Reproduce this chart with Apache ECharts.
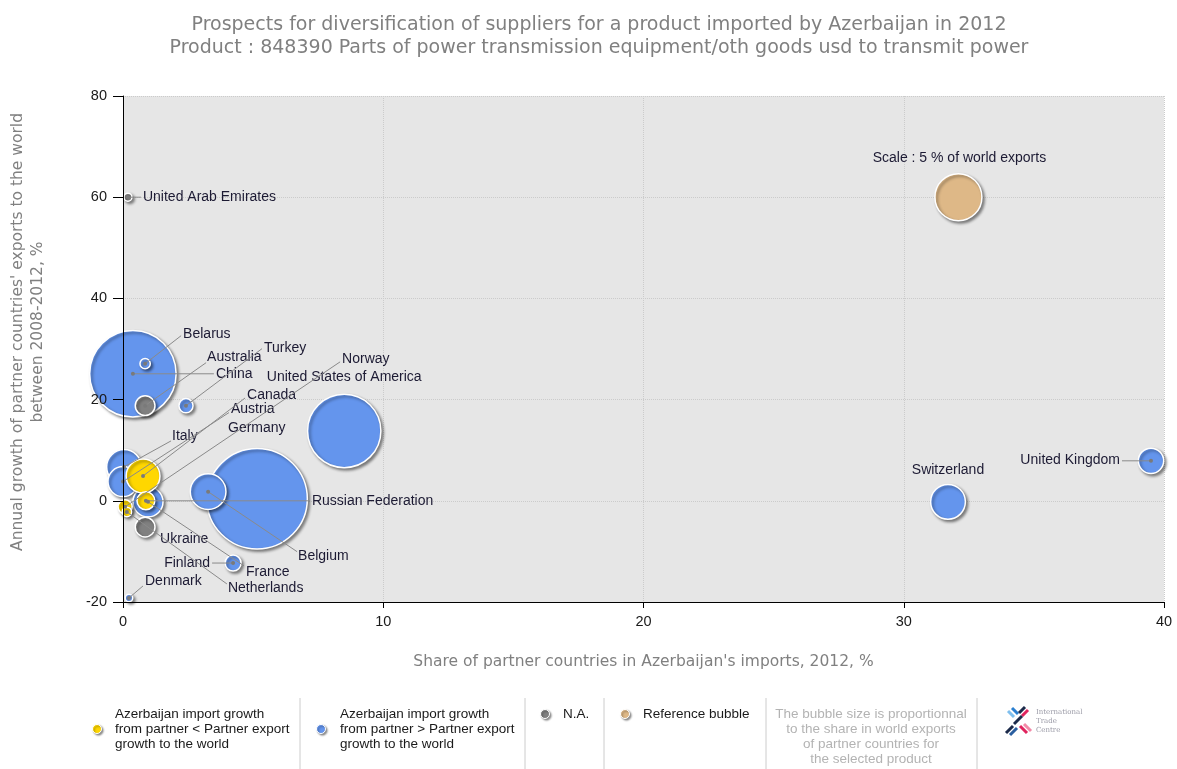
<!DOCTYPE html>
<html>
<head>
<meta charset="utf-8">
<title>Azerbaijan 848390 suppliers</title>
<script src="https://cdn.jsdelivr.net/npm/echarts@6/dist/echarts.min.js"></script>
<style>
  html, body { margin: 0; padding: 0; background: #fff; }
  #chart { width: 1177px; height: 769px; }
</style>
</head>
<body>
<div id="chart"></div>
<script>
// partner countries
const countries = [
  "United Arab Emirates", "China", "Belarus", "Australia", "Turkey",
  "United States of America", "Norway", "Canada", "Austria", "Germany",
  "Italy", "Russian Federation", "Ukraine", "Belgium", "Finland",
  "France", "Netherlands", "Denmark", "Switzerland", "United Kingdom"
]
// share in Azerbaijan's imports, 2012, %
const importShare = [0.19, 0.38, 0.85, 0.85, 2.42, 8.5, 0.08, 0.77, 0.0, 5.15, 0.04, 0.88, 0.85, 3.27, 4.23, 0.96, 0.15, 0.23, 31.7, 39.5]
// annual growth of partner exports to the world, 2008-2012, %
const exportGrowth = [60.0, 25.1, 27.1, 18.8, 18.8, 13.8, -1.2, 4.9, 3.8, 0.4, 6.7, 0.0, -5.2, 1.8, -12.3, -0.2, -2.2, -19.2, -0.2, 7.9]
// share in world exports, % (bubble size)
const worldShare = [0.85, 9.2, 1.1, 2.1, 1.5, 7.8, 1.5, 3.6, 3.2, 10.7, 3.7, 1.9, 2.1, 3.8, 1.7, 3.2, 1.0, 0.8, 3.7, 2.7]
// lower: import growth < partner export growth, higher: >, na: N.A.
const growthGroup = [
  "na", "higher", "higher", "na", "higher",
  "higher", "lower", "lower", "higher", "higher",
  "higher", "lower", "na", "higher", "higher",
  "higher", "lower", "higher", "higher", "higher"
]
const referenceBubble = { name: "Scale : 5 % of world exports", x: 32.1, y: 60, share: 5 }

const xRange = [0, 40, 10]
const yRange = [-20, 80, 20]

const PX_PER_PCT = 9.4
const colors = { lower: "#ffd700", higher: "#6495ed", na: "#808080", ref: "#deb887" }
const FONT = "'Liberation Sans', Arial, sans-serif"
const GRAY_FONT = "'DejaVu Sans', sans-serif"

// label offset from bubble centre [dx, dy, align, leaderDx, leaderDy]
const labelPlacement = {
  "United Arab Emirates": [15, 0, "left", 13, 0],
  "China": [83, 0, "left", 81, 0],
  "Belarus": [38, -30, "left", 36, -28],
  "Australia": [62, -49, "left", 61, -43],
  "Turkey": [78, -58, "left", 76, -57],
  "United States of America": [0, -54, "center", null, null],
  "Norway": [217, -148, "left", 215, -145],
  "Canada": [104, -81, "left", 102, -78],
  "Austria": [108, -72, "left", 106, -69],
  "Germany": [-29, -71, "left", null, null],
  "Italy": [48, -31, "left", 47, -26],
  "Russian Federation": [166, 0, "left", 164, 0],
  "Ukraine": [15, 12, "left", null, null],
  "Belgium": [90, 64, "left", 89, 60],
  "Finland": [-23, 0, "right", -21, 0],
  "France": [98, 70, "left", 96, 64],
  "Netherlands": [101, 76, "left", 100, 72],
  "Denmark": [16, -17, "left", 14, -12],
  "Switzerland": [0, -32, "center", null, null],
  "United Kingdom": [-31, -1, "right", -29, 0],
  "Scale : 5 % of world exports": [1, -39, "center", null, null]
}

function pointsOf(g) {
  return countries
    .map((name, i) => ({ name, g: growthGroup[i], value: [importShare[i], exportGrowth[i], worldShare[i]] }))
    .filter(d => d.g === g)
    .sort((a, b) => b.value[2] - a.value[2])
    .map(d => ({ name: d.name, value: d.value }))
}

function placeLabel(params) {
  const p = labelPlacement[params.text]
  if (!p) return {}
  const r = params.rect
  return { x: r.x + r.width / 2 + p[0], y: r.y + r.height / 2 + p[1], align: p[2], verticalAlign: "middle" }
}

function bubbleSeries(name, color, data) {
  return {
    name,
    type: "scatter",
    xAxisIndex: 0,
    yAxisIndex: 0,
    data,
    symbolSize: v => v[2] * PX_PER_PCT,
    itemStyle: {
      color,
      opacity: 1,
      borderColor: "#ffffff",
      borderWidth: 1.5,
      shadowBlur: 3,
      shadowOffsetX: 2,
      shadowOffsetY: 2,
      shadowColor: "rgba(0,0,0,0.45)"
    },
    label: { show: true, formatter: "{b}", color: "#1c1a33", fontSize: 14, fontFamily: FONT },
    labelLayout: placeLabel,
    emphasis: { disabled: true }
  }
}

const gridLines = { show: true, lineStyle: { color: "#cbcbcb", type: "dotted" } }

const chart = echarts.init(document.getElementById("chart"), null, { renderer: "canvas" })

chart.setOption({
  animation: false,
  title: {
    text: "Prospects for diversification of suppliers for a product imported by Azerbaijan in 2012\nProduct : 848390 Parts of power transmission equipment/oth goods usd to transmit power",
    left: 594,
    top: 9,
    textAlign: "center",
    textStyle: { fontFamily: GRAY_FONT, fontSize: 19, fontWeight: "normal", color: "#808080", lineHeight: 23 }
  },
  grid: { left: 123, right: 13, top: 96, bottom: 167, show: true, backgroundColor: "#e6e6e6", borderWidth: 0 },
  xAxis: [
    {
      // grid lines, behind the bubbles
      type: "value", min: xRange[0], max: xRange[1], interval: xRange[2], z: 0,
      axisLine: { show: false }, axisTick: { show: false }, axisLabel: { show: false },
      splitLine: gridLines
    },
    {
      type: "value", position: "bottom", min: xRange[0], max: xRange[1], interval: xRange[2], z: 6,
      name: "Share of partner countries in Azerbaijan's imports, 2012, %",
      nameLocation: "middle",
      nameGap: 52,
      nameTextStyle: { fontFamily: GRAY_FONT, fontSize: 15.5, color: "#808080" },
      axisLine: { onZero: false, lineStyle: { color: "#000", width: 1 } },
      axisTick: { length: 6, lineStyle: { color: "#000" } },
      axisLabel: { margin: 12, fontSize: 14.5, fontFamily: FONT, color: "#1a1a1a" },
      splitLine: { show: false }
    }
  ],
  yAxis: [
    {
      type: "value", min: yRange[0], max: yRange[1], interval: yRange[2], z: 0,
      axisLine: { show: false }, axisTick: { show: false }, axisLabel: { show: false },
      splitLine: gridLines
    },
    {
      type: "value", position: "left", min: yRange[0], max: yRange[1], interval: yRange[2], z: 6,
      axisLine: { show: true, onZero: false, lineStyle: { color: "#000", width: 1 } },
      axisTick: { show: true, length: 10, lineStyle: { color: "#000" } },
      axisLabel: { margin: 16, fontSize: 14.5, fontFamily: FONT, color: "#1a1a1a" },
      splitLine: { show: false }
    }
  ],
  series: [
    bubbleSeries("higher", colors.higher, pointsOf("higher")),
    bubbleSeries("lower", colors.lower, pointsOf("lower")),
    bubbleSeries("na", colors.na, pointsOf("na")),
    bubbleSeries("ref", colors.ref, [{ name: referenceBubble.name, value: [referenceBubble.x, referenceBubble.y, referenceBubble.share] }])
  ]
})

// leader lines from bubble centres to labels
const leaders = []
countries.forEach((name, i) => {
  const p = labelPlacement[name]
  if (!p || p[3] == null) return
  const c = chart.convertToPixel({ xAxisIndex: 0, yAxisIndex: 0 }, [importShare[i], exportGrowth[i]])
  leaders.push({ type: "line", z: 5, silent: true, shape: { x1: c[0], y1: c[1], x2: c[0] + p[3], y2: c[1] + p[4] }, style: { stroke: "#8a8a8a", lineWidth: 1 } })
  leaders.push({ type: "circle", z: 5, silent: true, shape: { cx: c[0], cy: c[1], r: 2 }, style: { fill: "#7a7a7a" } })
})

function legendDot(x, y, color) {
  return { type: "circle", z: 5, shape: { cx: x, cy: y, r: 4.5 }, style: { fill: color, stroke: "#fff", lineWidth: 1, shadowBlur: 2, shadowOffsetX: 1.5, shadowOffsetY: 1.5, shadowColor: "rgba(0,0,0,0.45)" } }
}
function legendText(x, y, text, fill, align) {
  return { type: "text", z: 5, x, y, style: { text, fill: fill || "#1a1a1a", font: "13.5px " + FONT, lineHeight: 15, align: align || "left", verticalAlign: "top" } }
}
function separator(x) {
  return { type: "line", z: 5, shape: { x1: x, y1: 698, x2: x, y2: 769 }, style: { stroke: "#cccccc", lineWidth: 1 } }
}
function stroke(x1, y1, x2, y2, color) {
  return { type: "line", z: 5, shape: { x1, y1, x2, y2 }, style: { stroke: color, lineWidth: 3, lineCap: "butt" } }
}

const legendEls = [
  { type: "text", z: 5, x: 28, y: 332, rotation: Math.PI / 2, style: {
    text: "Annual growth of partner countries' exports to the world\nbetween 2008-2012, %",
    fill: "#808080", font: "15.5px " + GRAY_FONT, lineHeight: 20, align: "center", verticalAlign: "middle" } },
  legendDot(97, 729, colors.lower),
  legendText(115, 706.5, "Azerbaijan import growth\nfrom partner < Partner export\ngrowth to the world"),
  separator(300),
  legendDot(321, 729, colors.higher),
  legendText(340, 706.5, "Azerbaijan import growth\nfrom partner > Partner export\ngrowth to the world"),
  separator(525),
  legendDot(545, 714, colors.na),
  legendText(563, 706.5, "N.A."),
  separator(604),
  legendDot(625, 714, colors.ref),
  legendText(643, 706.5, "Reference bubble"),
  separator(766),
  legendText(871, 706.5, "The bubble size is proportionnal\nto the share in world exports\nof partner countries for\nthe selected product", "#b3b3b3", "center"),
  separator(977),
  // ITC logo
  stroke(1008, 711, 1014, 717, "#7fbfee"), stroke(1012, 708, 1018, 714, "#2a7fd0"),
  stroke(1022, 716, 1028, 710, "#e0245e"), stroke(1019, 713, 1025, 707, "#1c2b4b"),
  stroke(1014, 724, 1022, 716, "#1c2b4b"),
  stroke(1006, 733, 1013, 726, "#1c2b4b"), stroke(1010, 735, 1017, 728, "#2a5fa0"),
  stroke(1020, 726, 1027, 733, "#e0245e"), stroke(1024, 724, 1031, 731, "#f28aa8"),
  { type: "text", z: 5, x: 1036, y: 708, style: { text: "International\nTrade\nCentre", fill: "#9a9aa6", font: "7px 'DejaVu Serif', serif", lineHeight: 9, align: "left", verticalAlign: "top" } }
]

chart.setOption({ graphic: legendEls.concat(leaders) })
</script>
</body>
</html>
